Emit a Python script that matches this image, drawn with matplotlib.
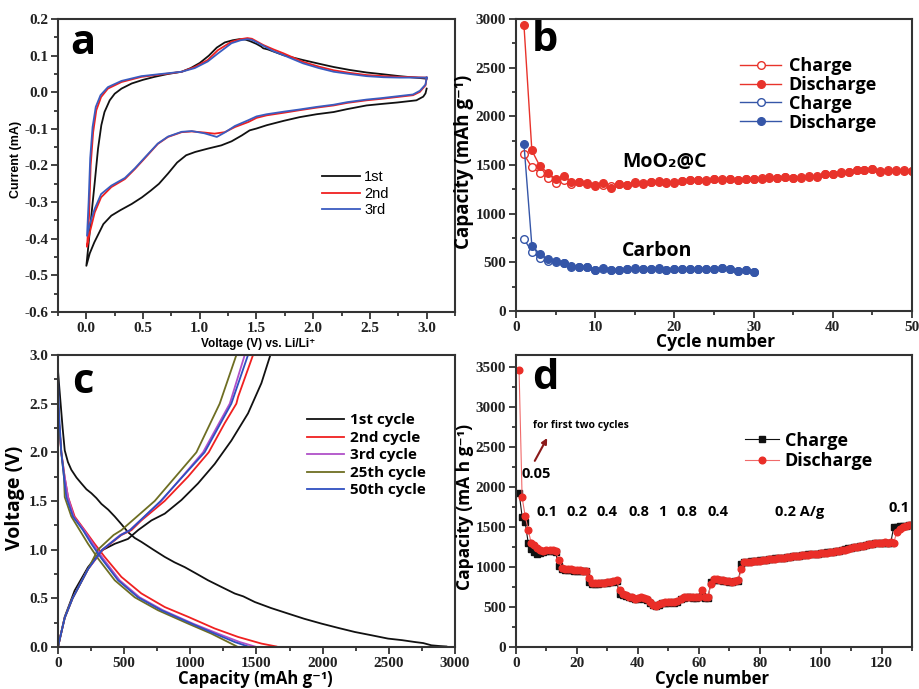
import matplotlib

matplotlib.use("Agg")
import matplotlib.pyplot as plt
from matplotlib import font_manager
from matplotlib.ticker import MultipleLocator

OUT_PATH = "out.png"

LABEL_FONT = ["Open Sans", "DejaVu Sans"]
ARIAL_FONT = ["Liberation Sans", "DejaVu Sans"]

# tick labels are bold Times-like; fall back if the bold face is missing
_serif_path = font_manager.findfont(font_manager.FontProperties(family="Liberation Serif", weight="bold"))
TICK_FONT = "Liberation Serif" if "Bold" in _serif_path else "DejaVu Serif"

# ---- panel a: CV curves (cathodic branch 3.0 -> 0, anodic branch 0 -> 3.0)
CV1_LOW_V = [3.00, 2.99, 2.97, 2.91, 2.74, 2.60, 2.47, 2.30, 2.18, 2.03, 1.88, 1.74, 1.59, 1.50, 1.44, 1.37,
             1.28, 1.19, 1.07, 0.96, 0.88, 0.80, 0.72, 0.64, 0.57, 0.49, 0.40, 0.30, 0.22, 0.15, 0.07, 0.03, 0.00]
CV1_LOW_I = [0.010, -0.003, -0.012, -0.022, -0.028, -0.032, -0.036, -0.046, -0.054, -0.060, -0.068, -0.078,
             -0.090, -0.099, -0.104, -0.118, -0.134, -0.145, -0.154, -0.163, -0.172, -0.192, -0.222, -0.250,
             -0.268, -0.287, -0.305, -0.322, -0.337, -0.360, -0.410, -0.440, -0.474]
CV1_UP_V = [0.00, 0.015, 0.044, 0.074, 0.103, 0.132, 0.16, 0.206, 0.25, 0.31, 0.40, 0.50, 0.60, 0.72, 0.84,
            0.92, 1.00, 1.08, 1.15, 1.22, 1.29, 1.35, 1.40, 1.44, 1.50, 1.54, 1.56, 1.60, 1.74, 1.91, 2.05,
            2.18, 2.32, 2.47, 2.62, 2.76, 2.90, 3.00]
CV1_UP_I = [-0.474, -0.428, -0.337, -0.246, -0.154, -0.090, -0.054, -0.022, -0.004, 0.010, 0.024, 0.034,
            0.042, 0.050, 0.056, 0.066, 0.080, 0.100, 0.122, 0.136, 0.142, 0.145, 0.144, 0.140, 0.132, 0.125,
            0.120, 0.117, 0.101, 0.088, 0.078, 0.069, 0.061, 0.054, 0.049, 0.044, 0.040, 0.037]

CV2_LOW_V = [3.00, 2.99, 2.94, 2.88, 2.74, 2.60, 2.47, 2.30, 2.18, 2.03, 1.88, 1.74, 1.59, 1.50, 1.43, 1.31,
             1.22, 1.13, 1.04, 0.93, 0.84, 0.72, 0.63, 0.51, 0.43, 0.34, 0.22, 0.13, 0.074, 0.03, 0.006]
CV2_LOW_I = [0.040, 0.019, 0.001, -0.008, -0.013, -0.018, -0.022, -0.029, -0.036, -0.042, -0.049, -0.056,
             -0.063, -0.070, -0.081, -0.095, -0.109, -0.113, -0.110, -0.107, -0.109, -0.122, -0.141, -0.182,
             -0.209, -0.237, -0.259, -0.287, -0.328, -0.383, -0.422]
CV2_UP_V = [0.006, 0.024, 0.038, 0.06, 0.088, 0.13, 0.19, 0.31, 0.485, 0.72, 0.84, 0.956, 1.07, 1.16, 1.28,
            1.36, 1.42, 1.46, 1.56, 1.65, 1.74, 1.91, 2.05, 2.18, 2.32, 2.47, 2.62, 2.76, 2.90, 3.00]
CV2_UP_I = [-0.422, -0.337, -0.200, -0.109, -0.049, -0.013, 0.010, 0.028, 0.042, 0.051, 0.056, 0.069, 0.088,
            0.115, 0.138, 0.145, 0.148, 0.146, 0.129, 0.117, 0.106, 0.083, 0.070, 0.060, 0.053, 0.047, 0.044,
            0.042, 0.041, 0.040]

CV3_LOW_V = [3.00, 2.99, 2.94, 2.88, 2.74, 2.60, 2.47, 2.30, 2.18, 2.03, 1.88, 1.74, 1.59, 1.50, 1.43, 1.31,
             1.22, 1.15, 1.04, 0.93, 0.84, 0.72, 0.63, 0.51, 0.43, 0.34, 0.22, 0.13, 0.074, 0.03, 0.006]
CV3_LOW_I = [0.040, 0.021, 0.004, -0.006, -0.011, -0.016, -0.020, -0.027, -0.034, -0.040, -0.047, -0.053,
             -0.060, -0.066, -0.076, -0.092, -0.110, -0.122, -0.112, -0.106, -0.108, -0.121, -0.140, -0.180,
             -0.207, -0.234, -0.255, -0.278, -0.318, -0.360, -0.392]
CV3_UP_V = [0.006, 0.02, 0.034, 0.055, 0.083, 0.125, 0.19, 0.31, 0.485, 0.72, 0.84, 0.956, 1.07, 1.16, 1.28,
            1.36, 1.42, 1.46, 1.56, 1.65, 1.74, 1.91, 2.05, 2.18, 2.32, 2.47, 2.62, 2.76, 2.90, 3.00]
CV3_UP_I = [-0.392, -0.300, -0.180, -0.095, -0.040, -0.008, 0.014, 0.031, 0.044, 0.052, 0.056, 0.066, 0.084,
            0.106, 0.134, 0.142, 0.145, 0.143, 0.127, 0.112, 0.101, 0.079, 0.066, 0.056, 0.050, 0.044, 0.041,
            0.040, 0.040, 0.040]

CV_LABELS = ["1st", "2nd", "3rd"]
CV_COLORS = ["#111111", "#f02020", "#3a5cc0"]

# ---- panel b: cycling, MoO2@C and carbon
B_CYCLES_MOO2 = list(range(1, 51))
B_CYCLES_CARBON = list(range(1, 31))
MOO2_DISCHARGE = [2940, 1650, 1490, 1420, 1355, 1385, 1330, 1330, 1318, 1280, 1318, 1260, 1300, 1290, 1318,
                  1308, 1328, 1328, 1318, 1318, 1335, 1345, 1345, 1338, 1352, 1346, 1352, 1346, 1352, 1356,
                  1356, 1368, 1363, 1380, 1363, 1363, 1380, 1380, 1408, 1408, 1420, 1430, 1448, 1448, 1458,
                  1430, 1442, 1442, 1442, 1440]
MOO2_CHARGE = [1610, 1476, 1421, 1363, 1318, 1346, 1305, 1325, 1305, 1295, 1290, 1285, 1300, 1295, 1322,
               1312, 1330, 1332, 1322, 1330, 1340, 1348, 1350, 1342, 1356, 1352, 1355, 1350, 1355, 1360,
               1362, 1372, 1370, 1382, 1370, 1372, 1385, 1392, 1410, 1412, 1425, 1432, 1448, 1450, 1460,
               1440, 1445, 1445, 1445, 1442]
CARBON_DISCHARGE = [1716, 671, 586, 534, 517, 497, 466, 455, 455, 421, 438, 421, 421, 435, 438, 435, 435, 438,
                    421, 432, 428, 428, 432, 432, 428, 445, 432, 414, 421, 404]
CARBON_CHARGE = [740, 610, 541, 517, 500, 490, 455, 450, 450, 425, 435, 422, 420, 432, 436, 432, 433, 436,
                 420, 430, 427, 427, 430, 430, 427, 442, 430, 414, 420, 404]

# ---- panel c: voltage profiles (capacity in mAh/g, voltage in V)
C1_DIS_CAP = [0, 8, 20, 35, 51, 75, 101, 140, 177, 215, 252, 290, 328, 380, 429, 480, 529, 580, 630, 720, 807,
              880, 958, 1050, 1134, 1230, 1336, 1400, 1487, 1610, 1739, 1860, 1991, 2120, 2243, 2370, 2494,
              2600, 2696, 2760, 2822, 2880, 2935]
C1_DIS_V = [2.84, 2.70, 2.50, 2.25, 2.02, 1.90, 1.82, 1.74, 1.68, 1.62, 1.58, 1.53, 1.47, 1.41, 1.34, 1.26,
            1.18, 1.12, 1.08, 1.00, 0.925, 0.87, 0.82, 0.75, 0.685, 0.62, 0.549, 0.52, 0.462, 0.40, 0.343,
            0.29, 0.240, 0.195, 0.154, 0.12, 0.086, 0.07, 0.051, 0.04, 0.017, 0.01, 0.005]
C1_CHG_CAP = [0, 20, 51, 126, 227, 328, 429, 529, 605, 706, 807, 933, 1058, 1184, 1310, 1436, 1537, 1605]
C1_CHG_V = [0.0, 0.12, 0.31, 0.58, 0.82, 0.99, 1.06, 1.11, 1.20, 1.30, 1.37, 1.51, 1.68, 1.88, 2.12, 2.40, 2.71, 3.0]

C2_DIS_CAP = [0, 8, 25, 50, 76, 126, 202, 277, 353, 479, 630, 807, 983, 1184, 1361, 1537, 1650]
C2_DIS_V = [2.5, 2.3, 2.0, 1.75, 1.54, 1.34, 1.20, 1.06, 0.925, 0.72, 0.55, 0.41, 0.31, 0.19, 0.103, 0.035, 0.005]
C2_CHG_CAP = [0, 20, 51, 110, 227, 340, 479, 555, 630, 806, 983, 1139, 1260, 1348, 1361, 1474]
C2_CHG_V = [0.0, 0.12, 0.30, 0.50, 0.80, 1.00, 1.15, 1.20, 1.30, 1.50, 1.75, 2.00, 2.30, 2.50, 2.57, 3.0]

C3_DIS_CAP = [0, 8, 25, 50, 76, 119, 197, 265, 340, 466, 617, 794, 1020, 1209, 1373, 1487]
C3_DIS_V = [2.5, 2.3, 2.0, 1.75, 1.54, 1.34, 1.20, 1.06, 0.91, 0.685, 0.51, 0.377, 0.24, 0.137, 0.051, 0.005]
C3_CHG_CAP = [0, 20, 51, 110, 227, 335, 470, 542, 781, 1096, 1298, 1411]
C3_CHG_V = [0.0, 0.12, 0.30, 0.50, 0.80, 1.00, 1.15, 1.20, 1.50, 2.00, 2.50, 3.0]

C25_DIS_CAP = [0, 8, 25, 45, 51, 101, 164, 227, 302, 429, 580, 756, 983, 1159, 1285, 1352]
C25_DIS_V = [2.5, 2.3, 2.0, 1.75, 1.54, 1.34, 1.20, 1.06, 0.91, 0.685, 0.51, 0.377, 0.24, 0.137, 0.051, 0.005]
C25_CHG_CAP = [0, 20, 51, 110, 227, 302, 420, 479, 731, 1046, 1222, 1348]
C25_CHG_V = [0.0, 0.12, 0.30, 0.50, 0.80, 1.00, 1.15, 1.20, 1.50, 2.00, 2.50, 3.0]

C50_DIS_CAP = [0, 8, 25, 45, 63, 113, 189, 252, 328, 454, 605, 781, 1008, 1184, 1335, 1436]
C50_DIS_V = [2.8, 2.4, 2.0, 1.75, 1.54, 1.34, 1.20, 1.06, 0.91, 0.685, 0.51, 0.377, 0.24, 0.137, 0.051, 0.005]
C50_CHG_CAP = [0, 20, 51, 110, 227, 335, 475, 545, 776, 1108, 1310, 1436]
C50_CHG_V = [0.0, 0.12, 0.30, 0.50, 0.80, 1.00, 1.15, 1.20, 1.50, 2.00, 2.50, 3.0]

C_LABELS = ["1st cycle", "2nd cycle", "3rd cycle", "25th cycle", "50th cycle"]
C_COLORS = ["#111111", "#f02020", "#b050c8", "#6e6e22", "#2f4fc0"]

# ---- panel d: rate capability
D_CYCLES = list(range(1, 131))
D_DISCHARGE = [3460, 1870, 1640, 1460, 1300, 1270, 1240, 1210, 1200, 1210, 1215, 1210, 1195, 1090, 990,
               980, 975, 970, 965, 960, 960, 955, 955, 860, 800, 795, 795, 800, 805, 810,
               815, 825, 835, 710, 660, 650, 630, 620, 605, 610, 620, 610, 600, 565, 530,
               515, 535, 555, 560, 560, 565, 560, 570, 605, 620, 630, 625, 620, 620, 625,
               710, 620, 620, 790, 850, 845, 840, 835, 825, 820, 815, 830, 835, 980, 1060,
               1065, 1068, 1075, 1074, 1080, 1086, 1090, 1094, 1100, 1104, 1106, 1110, 1116, 1119, 1125,
               1131, 1134, 1140, 1146, 1149, 1155, 1160, 1158, 1165, 1170, 1174, 1180, 1186, 1189, 1195,
               1200, 1210, 1218, 1230, 1238, 1245, 1250, 1260, 1266, 1275, 1284, 1290, 1295, 1300, 1305,
               1310, 1305, 1312, 1300, 1440, 1480, 1500, 1510, 1520, 1530]
D_CHARGE = [1930, 1630, 1560, 1300, 1230, 1190, 1165, 1175, 1190, 1195, 1200, 1200, 1185, 1010, 970,
            965, 965, 960, 955, 955, 950, 950, 945, 810, 790, 790, 790, 795, 800, 805,
            810, 815, 825, 660, 650, 640, 625, 615, 600, 605, 610, 600, 590, 545, 525,
            515, 530, 550, 555, 555, 560, 555, 565, 600, 615, 625, 620, 615, 615, 620,
            640, 615, 615, 810, 840, 840, 835, 830, 820, 815, 810, 825, 830, 1040, 1060,
            1066, 1070, 1076, 1078, 1082, 1088, 1092, 1096, 1102, 1106, 1108, 1112, 1118, 1121, 1127,
            1133, 1136, 1142, 1148, 1151, 1157, 1162, 1160, 1167, 1172, 1176, 1182, 1188, 1191, 1197,
            1202, 1212, 1220, 1232, 1240, 1247, 1252, 1262, 1268, 1277, 1286, 1292, 1297, 1302, 1300,
            1298, 1296, 1300, 1500, 1505, 1510, 1512, 1518, 1525, 1530]
D_RATE_LABELS = ["0.1", "0.2", "0.4", "0.8", "1", "0.8", "0.4", "0.2 A/g"]
D_RATE_X = [0.078, 0.154, 0.230, 0.311, 0.369, 0.432, 0.510, 0.715]


def style_axis(ax, xlim, ylim, xmajor, xminor, ymajor, yminor, tick_size=11):
    ax.set_xlim(*xlim)
    ax.set_ylim(*ylim)
    ax.xaxis.set_major_locator(MultipleLocator(xmajor))
    ax.xaxis.set_minor_locator(MultipleLocator(xminor))
    ax.yaxis.set_major_locator(MultipleLocator(ymajor))
    ax.yaxis.set_minor_locator(MultipleLocator(yminor))
    ax.tick_params(which="both", direction="out", top=False, right=False, width=1.2, colors="#222222",
                   labelsize=tick_size, pad=2, labelfontfamily=TICK_FONT)
    ax.tick_params(which="major", length=5)
    ax.tick_params(which="minor", length=3)
    for spine in ax.spines.values():
        spine.set_linewidth(1.5)
        spine.set_color("#333333")


def bold_ticks(ax):
    for label in ax.get_xticklabels() + ax.get_yticklabels():
        label.set_fontweight("bold")
        label.set_fontfamily(TICK_FONT)


def panel_letter(ax, letter, x, y):
    ax.text(x, y, letter, transform=ax.transAxes, ha="center", va="center", fontsize=30,
            fontweight="bold", family=LABEL_FONT)


plt.rcParams["font.family"] = [TICK_FONT, "DejaVu Serif"]
plt.rcParams["font.weight"] = "bold"
plt.rcParams["axes.unicode_minus"] = False

fig = plt.figure(figsize=(9.19, 6.89), dpi=100, facecolor="white")
ax_a = fig.add_axes([0.0631, 0.5472, 0.4320, 0.4252])
ax_b = fig.add_axes([0.5615, 0.5486, 0.4309, 0.4238])
ax_c = fig.add_axes([0.0631, 0.0610, 0.4320, 0.4238])
ax_d = fig.add_axes([0.5615, 0.0610, 0.4309, 0.4238])

# ---- a
cv_sets = [(CV1_LOW_V, CV1_LOW_I, CV1_UP_V, CV1_UP_I),
           (CV2_LOW_V, CV2_LOW_I, CV2_UP_V, CV2_UP_I),
           (CV3_LOW_V, CV3_LOW_I, CV3_UP_V, CV3_UP_I)]
for (lv, li, uv, ui), color, label in zip(cv_sets, CV_COLORS, CV_LABELS):
    ax_a.plot(lv + uv, li + ui, color=color, lw=1.3, label=label)
style_axis(ax_a, (-0.25, 3.25), (-0.6, 0.2), 0.5, 0.25, 0.1, 0.05)
ax_a.set_xlabel("Voltage (V) vs. Li/Li\u207a", fontsize=8.5, family=ARIAL_FONT, fontweight="bold")
ax_a.set_ylabel("Current (mA)", fontsize=9, family=ARIAL_FONT, fontweight="bold")
ax_a.xaxis.set_label_coords(0.504, -0.088)
ax_a.yaxis.set_label_coords(-0.09, 0.52)
ax_a.legend(loc="upper left", bbox_to_anchor=(0.665, 0.483), frameon=False, handlelength=2.6,
            handletextpad=0.3, labelspacing=0.15, borderpad=0, borderaxespad=0,
            prop=dict(family=ARIAL_FONT, weight="normal", size=10.5))
panel_letter(ax_a, "a", 0.063, 0.915)

# ---- b
red, blue = "#e8332b", "#3556a8"
ax_b.plot(B_CYCLES_MOO2, MOO2_CHARGE, "-o", color=red, mfc="white", mec=red, ms=5.5, lw=1.0, mew=1.0,
          label="Charge")
ax_b.plot(B_CYCLES_MOO2, MOO2_DISCHARGE, "-o", color=red, ms=5.5, lw=1.0, label="Discharge")
ax_b.plot(B_CYCLES_CARBON, CARBON_CHARGE, "-o", color=blue, mfc="white", mec=blue, ms=5.5, lw=1.0, mew=1.0,
          label="Charge")
ax_b.plot(B_CYCLES_CARBON, CARBON_DISCHARGE, "-o", color=blue, ms=5.5, lw=1.0, label="Discharge")
style_axis(ax_b, (0, 50), (0, 3000), 10, 5, 500, 250)
ax_b.set_xlabel("Cycle number", fontsize=12.5, family=LABEL_FONT, fontweight="bold")
ax_b.set_ylabel("Capacity (mAh g\u207b\u00b9)", fontsize=13.5, family=LABEL_FONT, fontweight="bold")
ax_b.xaxis.set_label_coords(0.503, -0.075)
ax_b.yaxis.set_label_coords(-0.107, 0.51)
ax_b.legend(loc="upper left", bbox_to_anchor=(0.565, 0.87), frameon=False, handlelength=2.3, numpoints=1,
            handletextpad=0.4, labelspacing=0.05, borderpad=0, borderaxespad=0,
            prop=dict(family=LABEL_FONT, weight="bold", size=13))
ax_b.text(0.376, 0.510, "MoO\u2082@C", transform=ax_b.transAxes, ha="center", va="center", fontsize=14,
          family=LABEL_FONT, fontweight="bold")
ax_b.text(0.356, 0.205, "Carbon", transform=ax_b.transAxes, ha="center", va="center", fontsize=14,
          family=LABEL_FONT, fontweight="bold")
panel_letter(ax_b, "b", 0.073, 0.925)

# ---- c
c_sets = [(C1_DIS_CAP, C1_DIS_V, C1_CHG_CAP, C1_CHG_V),
          (C2_DIS_CAP, C2_DIS_V, C2_CHG_CAP, C2_CHG_V),
          (C3_DIS_CAP, C3_DIS_V, C3_CHG_CAP, C3_CHG_V),
          (C25_DIS_CAP, C25_DIS_V, C25_CHG_CAP, C25_CHG_V),
          (C50_DIS_CAP, C50_DIS_V, C50_CHG_CAP, C50_CHG_V)]
for (dc, dv, cc, cv), color, label in zip(c_sets, C_COLORS, C_LABELS):
    ax_c.plot(dc, dv, color=color, lw=1.3, label=label)
    ax_c.plot(cc, cv, color=color, lw=1.3)
style_axis(ax_c, (0, 3000), (0, 3.0), 500, 250, 0.5, 0.25)
ax_c.set_xlabel("Capacity (mAh g\u207b\u00b9)", fontsize=12, family=LABEL_FONT, fontweight="bold")
ax_c.set_ylabel("Voltage (V)", fontsize=14, family=LABEL_FONT, fontweight="bold")
ax_c.xaxis.set_label_coords(0.496, -0.08)
ax_c.yaxis.set_label_coords(-0.082, 0.51)
ax_c.legend(loc="upper left", bbox_to_anchor=(0.627, 0.80), frameon=False, handlelength=2.4,
            handletextpad=0.4, labelspacing=0.23, borderpad=0, borderaxespad=0,
            prop=dict(family=LABEL_FONT, weight="bold", size=11))
panel_letter(ax_c, "c", 0.063, 0.905)

# ---- d
ax_d.plot(D_CYCLES, D_CHARGE, "-s", color="#111111", ms=4.2, lw=0.8, label="Charge")
ax_d.plot(D_CYCLES, D_DISCHARGE, "-o", color="#f06a6a", mfc="#ea2e28", mec="#ea2e28", ms=4.8, lw=0.8,
          label="Discharge")
style_axis(ax_d, (0, 130), (0, 3650), 20, 10, 500, 250)
ax_d.set_xlabel("Cycle number", fontsize=12, family=LABEL_FONT, fontweight="bold")
ax_d.set_ylabel("Capacity (mA h g\u207b\u00b9)", fontsize=12.5, family=LABEL_FONT, fontweight="bold")
ax_d.xaxis.set_label_coords(0.495, -0.08)
ax_d.yaxis.set_label_coords(-0.107, 0.48)
ax_d.legend(loc="upper left", bbox_to_anchor=(0.578, 0.737), frameon=False, handlelength=1.9, numpoints=1,
            handletextpad=0.3, labelspacing=0.12, borderpad=0, borderaxespad=0,
            prop=dict(family=LABEL_FONT, weight="bold", size=13))
for label, x in zip(D_RATE_LABELS, D_RATE_X):
    ax_d.text(x, 0.462, label, transform=ax_d.transAxes, ha="center", va="center", fontsize=10.5,
              family=LABEL_FONT, fontweight="bold")
ax_d.text(0.967, 0.476, "0.1", transform=ax_d.transAxes, ha="center", va="center", fontsize=10.5,
          family=LABEL_FONT, fontweight="bold")
ax_d.text(0.051, 0.592, "0.05", transform=ax_d.transAxes, ha="center", va="center", fontsize=10.5,
          family=LABEL_FONT, fontweight="bold")
ax_d.text(0.043, 0.760, "for first two cycles", transform=ax_d.transAxes, ha="left", va="center",
          fontsize=7.5, family=LABEL_FONT, fontweight="bold")
ax_d.annotate("", xy=(0.082, 0.724), xytext=(0.044, 0.629), xycoords="axes fraction",
              arrowprops=dict(arrowstyle="-|>", color="#8b1a1a", lw=1.5, mutation_scale=8))
panel_letter(ax_d, "d", 0.073, 0.92)

for ax in (ax_a, ax_b, ax_c, ax_d):
    bold_ticks(ax)

fig.savefig(OUT_PATH, dpi=100, facecolor="white")
